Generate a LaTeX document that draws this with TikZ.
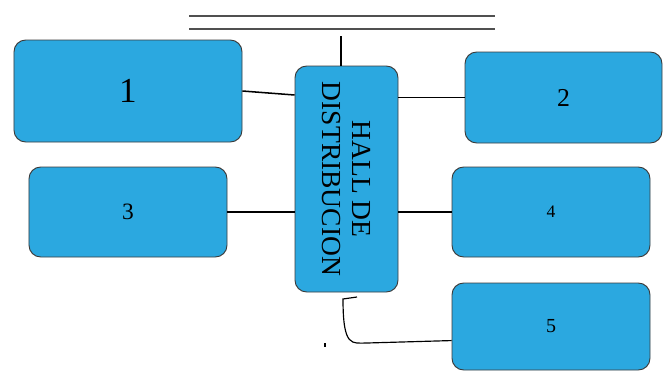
\documentclass[tikz,border=0pt]{standalone}
\usepackage{fontspec}
\setmainfont{Liberation Serif}
\usetikzlibrary{positioning,calc}

\definecolor{roomblue}{RGB}{43,168,224}
\definecolor{roomedge}{RGB}{60,60,60}
\definecolor{wallgray}{RGB}{80,80,80}

\begin{document}
\begin{tikzpicture}[
  x=0.03cm, y=-0.03cm,
  room/.style={draw=roomedge, fill=roomblue, rounded corners=10pt, line width=0.8pt, inner sep=0pt, align=center},
  link/.style={line width=1.3pt, black},
  wall/.style={line width=2.2pt, wallgray}
]
\useasboundingbox (0,0) rectangle (671,382);

% Entrance (double wall line)
\draw[wall] (189,16) -- (495,16);
\draw[wall] (189,29) -- (495,29);

% Central hall (rotated: west = top, north = right, south = left)
\node[room, rotate=-90, minimum width=6.78cm, minimum height=3.09cm, font=\fontsize{23.5}{25}\selectfont] (hall) at (346.5,179) {HALL DE\\DISTRIBUCION};

% Rooms
\node[room, minimum width=6.84cm, minimum height=3.06cm, font=\fontsize{30}{32}\selectfont] (r1) at (128,91) {1};
\node[room, minimum width=5.91cm, minimum height=2.73cm, font=\fontsize{22}{24}\selectfont] (r2) at (563.5,97.5) {2};
\node[room, minimum width=5.94cm, minimum height=2.70cm, font=\fontsize{20}{22}\selectfont] (r3) at (128,212) {3};
\node[room, minimum width=5.94cm, minimum height=2.70cm, font=\fontsize{15}{17}\selectfont] (r4) at (551,212) {4};
\node[room, minimum width=5.94cm, minimum height=2.61cm, font=\fontsize{17}{19}\selectfont] (r5) at (551,326.5) {\raisebox{-2pt}{5}};

% Connections
\coordinate (door) at (341,36);
\draw[link] (door) -- (door |- hall.west);
\draw[link] (r1.east) -- ($(hall.south |- r1.east)+(0,4)$);
\draw[link] (hall.north |- r2.west) -- (r2.west);
\draw[link] (r3.east) -- (hall.south |- r3.east);
\draw[link] (hall.north |- r4.west) -- (r4.west);

% Curved passage to room 5
\coordinate (hook) at (357,297);
\draw[line width=1pt] (hook) -- (343,299) .. controls (343,348) and (352,343) .. (367,343) -- ([yshift=-12pt]r5.west);
\draw[line width=1pt] (325,343) -- (325,347);

\end{tikzpicture}
\end{document}
